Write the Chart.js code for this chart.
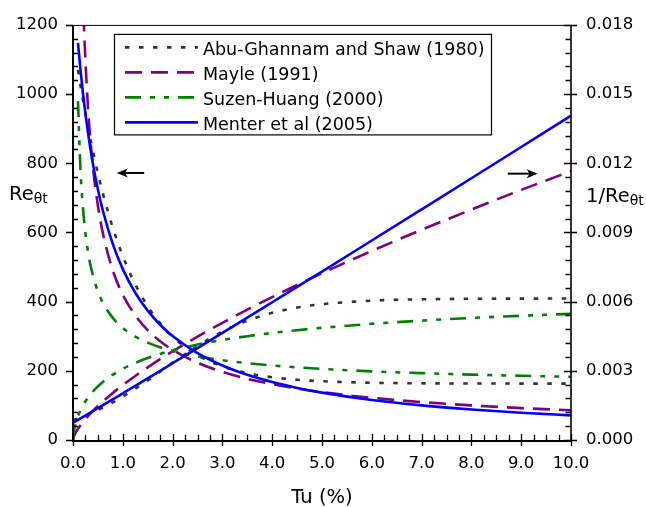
<!DOCTYPE html>
<html><head><meta charset="utf-8">
<script src="https://cdn.jsdelivr.net/npm/chart.js@4.4.1/dist/chart.umd.min.js"></script>
<style>html,body{margin:0;padding:0;background:#fff}#wrap{width:646px;height:507px}</style>
</head><body><div id="wrap"><canvas id="c" width="646" height="507"></canvas></div>
<script>
// Turbulence intensity Tu (%)
const tu = [0, 0.02, 0.05, 0.1, 0.15, 0.2, 0.3, 0.4, 0.5, 0.6, 0.8, 1.0, 1.25, 1.5, 1.75, 2.0, 2.5, 3.0, 3.5, 4.0, 4.5, 5.0, 6.0, 7.0, 8.0, 9.0, 10.0];
// Re_theta_t (left axis)
const agsRe    = [null,null,null,1069.8,1025.6,983.5,905.4,834.8,770.9,713.0,613.3,531.7,450.1,386.6,337.2,298.6,245.3,212.9,193.3,181.4,174.1,169.8,165.5,163.9,163.3,163.1,163.0];
const mayleRe  = [null,null,null,2057,1555,1275,964,790.4,677.6,597.5,489.9,420,360.1,317.5,285.5,260.3,223.2,196.8,176.9,161.4,148.8,138.3,122.0,109.7,100.1,92.2,85.8];
const suzenRe  = [null,null,null,979.6,781.6,670.3,545.7,475.6,429.7,397.0,352.9,324,299.1,281.4,267.9,257.4,241.7,230.5,222.1,215.4,210.0,205.6,198.5,193.2,189.0,185.6,182.8];
const menterRe = [null,null,null,1148.1,1070.2,1002.1,888.9,798.2,724.2,662.7,566.2,493.9,425.7,373.9,333.2,300.4,250.9,215.3,188.4,167.4,150.6,136.9,115.6,100.0,88.1,78.7,71.1];
// 1/Re_theta_t (right axis)
const agsInv    = [0.000858,0.000873,0.000896,0.000935,0.000975,0.001017,0.001104,0.001198,0.001297,0.001403,0.001631,0.001881,0.002222,0.002587,0.002966,0.003349,0.004077,0.004697,0.005173,0.005513,0.005744,0.005889,0.006042,0.006101,0.006124,0.006131,0.006135];
const mayleInv  = [0,0.000160,0.000301,0.000486,0.000643,0.000784,0.001037,0.001265,0.001476,0.001674,0.002041,0.002381,0.002777,0.003150,0.003503,0.003842,0.004480,0.005081,0.005653,0.006196,0.006720,0.007231,0.008197,0.009116,0.009990,0.010846,0.011655];
const suzenInv  = [0,0.000387,0.000680,0.001021,0.001279,0.001492,0.001833,0.002103,0.002327,0.002519,0.002834,0.003086,0.003343,0.003554,0.003733,0.003885,0.004137,0.004338,0.004502,0.004643,0.004762,0.004864,0.005038,0.005176,0.005291,0.005388,0.005470];
const menterInv = [0.000745,0.000770,0.000808,0.000871,0.000934,0.000998,0.001125,0.001253,0.001381,0.001509,0.001766,0.002025,0.002349,0.002675,0.003001,0.003329,0.003986,0.004645,0.005308,0.005974,0.006640,0.007305,0.008651,0.010000,0.011351,0.012706,0.014065];

const seriesNames = ['Abu-Ghannam and Shaw (1980)', 'Mayle (1991)', 'Suzen-Huang (2000)', 'Menter et al (2005)'];
const xTicks = [0,1,2,3,4,5,6,7,8,9,10];
const leftTicks = [0,200,400,600,800,1000,1200];
const rightTicks = [0,0.003,0.006,0.009,0.012,0.015,0.018];
// arrows (data coordinates, left axis): from -> to
const arrows = [ {from:1.43, to:0.88, re:772}, {from:8.73, to:9.33, re:770} ];

const styles = [
  {color:'#333333', dash:[4.5,9.5], order:3},
  {color:'#800080', dash:[17,9], order:2},
  {color:'#008000', dash:[16,9,5,9,5,9], order:1},
  {color:'#0000ff', dash:[], order:0}
];
const reArr = [agsRe, mayleRe, suzenRe, menterRe];
const invArr = [agsInv, mayleInv, suzenInv, menterInv];
const FONT = 'DejaVu Sans';

function pts(arr){ const o=[]; tu.forEach((x,i)=>{ if(arr[i]!==null) o.push({x:x,y:arr[i]}); }); return o; }

const datasets = [];
seriesNames.forEach((name,i)=>{
  const s = styles[i];
  datasets.push({label:name, data:pts(reArr[i]), yAxisID:'y', borderColor:s.color, borderDash:s.dash, order:s.order, legend:true});
  datasets.push({label:name+' inv', data:pts(invArr[i]), yAxisID:'y2', borderColor:s.color, borderDash:s.dash, order:s.order});
});

function drawSub(ctx, main, sub, x, base, mainSize, subSize, align){
  ctx.font = mainSize+'px "'+FONT+'"';
  const wm = ctx.measureText(main).width;
  ctx.font = subSize+'px "'+FONT+'"';
  const ws = ctx.measureText(sub).width;
  let x0 = x;
  if (align==='center') x0 = x - (wm+ws)/2;
  ctx.textAlign='left'; ctx.textBaseline='alphabetic';
  ctx.font = mainSize+'px "'+FONT+'"';
  ctx.fillText(main, x0, base);
  ctx.font = subSize+'px "'+FONT+'"';
  ctx.fillText(sub, x0+wm, base+3);
}

const decor = {
  id:'decor',
  afterDatasetsDraw(chart){
    const ctx = chart.ctx, a = chart.chartArea, sx = chart.scales.x, sy = chart.scales.y, sy2 = chart.scales.y2;
    ctx.save();
    ctx.strokeStyle='#000'; ctx.fillStyle='#000'; ctx.setLineDash([]);
    // ticks
    ctx.lineWidth=1.3;
    ctx.beginPath();
    for(let i=0;i<=40;i++){
      const px = Math.round(sx.getPixelForValue(i*0.25))+0.5;
      if(i%4===0){ ctx.moveTo(px,a.bottom-6); ctx.lineTo(px,a.bottom+6); }
      else { ctx.moveTo(px,a.bottom-5); ctx.lineTo(px,a.bottom); }
    }
    for(let i=0;i<=30;i++){
      const py = Math.round(sy.getPixelForValue(i*40))+0.5;
      if(i%5===0){ ctx.moveTo(a.left-7,py); ctx.lineTo(a.left,py); }
      else { ctx.moveTo(a.left,py); ctx.lineTo(a.left+5,py); }
      const py2 = Math.round(sy2.getPixelForValue(i*0.0006))+0.5;
      if(i%5===0){ ctx.moveTo(a.right-7,py2); ctx.lineTo(a.right+6,py2); }
      else { ctx.moveTo(a.right-5.5,py2); ctx.lineTo(a.right,py2); }
    }
    ctx.stroke();
    // frame
    ctx.lineWidth=1; ctx.beginPath(); ctx.moveTo(a.left,a.top+0.5); ctx.lineTo(a.right,a.top+0.5); ctx.stroke();
    ctx.lineWidth=1.6; ctx.beginPath(); ctx.moveTo(a.right,a.top); ctx.lineTo(a.right,a.bottom); ctx.stroke();
    ctx.lineWidth=2; ctx.beginPath(); ctx.moveTo(a.left,a.top); ctx.lineTo(a.left,a.bottom+1); ctx.lineTo(a.right,a.bottom+1); ctx.stroke();
    // arrows
    arrows.forEach(ar=>{
      const x1=sx.getPixelForValue(ar.from), x2=sx.getPixelForValue(ar.to), y=sy.getPixelForValue(ar.re);
      const dir = Math.sign(x2-x1);
      ctx.lineWidth=2; ctx.beginPath(); ctx.moveTo(x1,y); ctx.lineTo(x2-dir*6,y); ctx.stroke();
      ctx.beginPath(); ctx.moveTo(x2,y); ctx.lineTo(x2-dir*11,y-4.5); ctx.lineTo(x2-dir*8,y); ctx.lineTo(x2-dir*11,y+4.5); ctx.closePath(); ctx.fill();
    });
    // legend
    const lx=a.left+41.5, ly=a.top+9.5, lw=377, lh=100.5;
    ctx.fillStyle='#fff'; ctx.fillRect(lx,ly,lw,lh);
    ctx.lineWidth=1.2; ctx.strokeStyle='#000'; ctx.strokeRect(lx,ly,lw,lh);
    const legendSets = chart.data.datasets.filter(d=>d.legend);
    legendSets.forEach((d,i)=>{
      const yy = ly + 13 + i*25;
      ctx.save();
      ctx.strokeStyle=d.borderColor; ctx.lineWidth=2.8; ctx.setLineDash(d.borderDash); ctx.lineCap='butt';
      ctx.beginPath(); ctx.moveTo(lx+10.5,yy); ctx.lineTo(lx+83.5,yy); ctx.stroke();
      ctx.restore();
      ctx.fillStyle='#000'; ctx.font='17.5px "'+FONT+'"'; ctx.textAlign='left'; ctx.textBaseline='alphabetic';
      ctx.fillText(d.label, lx+88.5, yy+8);
    });
    // axis titles
    ctx.fillStyle='#000';
    drawSub(ctx,'Re','θt',9,199.5,19.5,14,'left');
    drawSub(ctx,'1/Re','θt',586,201.5,19.5,14,'left');
    ctx.font='19.5px "'+FONT+'"'; ctx.textAlign='center'; ctx.textBaseline='alphabetic';
    ctx.fillText('Tu (%)',(a.left+a.right)/2,503);
    ctx.restore();
  }
};

const tickFont = {family:FONT, size:16.5};
new Chart(document.getElementById('c'), {
  type:'line',
  data:{datasets:datasets},
  options:{
    responsive:false, animation:false,
    layout:{padding:{top:18,left:0,right:0,bottom:0}},
    plugins:{legend:{display:false}, tooltip:{enabled:false}},
    elements:{point:{radius:0}, line:{borderWidth:2.6, cubicInterpolationMode:'monotone', borderCapStyle:'butt', fill:false}},
    scales:{
      x:{type:'linear', min:0, max:10,
        afterFit(s){ s.height=67; },
        afterBuildTicks(s){ s.ticks = xTicks.map(v=>({value:v})); },
        grid:{display:false, drawTicks:false}, border:{display:false},
        ticks:{padding:14, autoSkip:false, maxRotation:0, color:'#000', font:tickFont, callback:v=>Number(v).toFixed(1)}},
      y:{type:'linear', position:'left', min:0, max:1200,
        afterFit(s){ s.width=73; },
        afterBuildTicks(s){ s.ticks = leftTicks.map(v=>({value:v})); },
        grid:{display:false, drawTicks:false}, border:{display:false},
        ticks:{padding:15, autoSkip:false, color:'#000', font:tickFont, callback:v=>String(v)}},
      y2:{type:'linear', position:'right', min:0, max:0.018,
        afterFit(s){ s.width=75; },
        afterBuildTicks(s){ s.ticks = rightTicks.map(v=>({value:v})); },
        grid:{display:false, drawTicks:false}, border:{display:false},
        ticks:{padding:15, autoSkip:false, color:'#000', font:tickFont, callback:v=>Number(v).toFixed(3)}}
    }
  },
  plugins:[decor]
});
</script></body></html>
